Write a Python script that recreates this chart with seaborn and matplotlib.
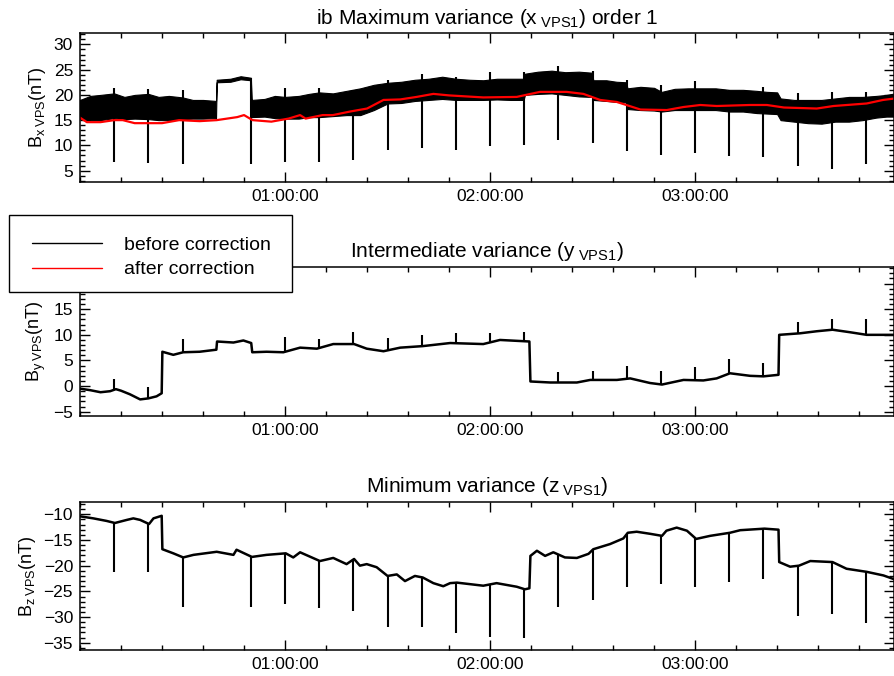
import numpy as np
import matplotlib
matplotlib.use('Agg')
import matplotlib.pyplot as plt
import seaborn as sns
from matplotlib.ticker import MultipleLocator, FixedLocator, FuncFormatter
from matplotlib.lines import Line2D
from matplotlib.patches import Rectangle

# ---------------- data (time in minutes after 00:00:00) ----------------
# Panel 1: before correction, noisy band (lower / upper envelope)
bx_t = [0, 3, 6, 10, 13, 16, 20, 23, 26, 30, 33, 36, 39.8, 40.0, 44, 47, 50.0, 50.2,
        54, 57, 60, 64, 67, 70, 74, 78, 82, 86, 90, 94, 98, 102, 106, 110, 114, 118,
        122, 126, 129.8, 130.2, 134, 138, 142, 146, 149.8, 150.2, 154, 157, 159.8,
        160.2, 164, 168, 170.2, 174, 178, 182, 186, 190, 194, 198, 201, 204, 205,
        209, 213, 217, 221, 225, 229, 233, 236, 238.5]
bx_lo = [15.3, 15.0, 15.0, 15.4, 15.2, 15.3, 15.2, 15.0, 15.0, 15.2, 15.3, 15.3, 15.4,
         22.5, 22.6, 23.1, 22.9, 15.6, 15.7, 15.4, 15.3, 15.3, 15.6, 15.6, 15.8, 16.0,
         16.0, 17.0, 18.3, 18.4, 18.8, 19.0, 19.2, 19.0, 19.0, 19.0, 19.1, 19.0, 19.0,
         20.0, 20.2, 20.3, 20.0, 19.7, 19.6, 19.0, 18.8, 18.6, 18.5, 17.2, 17.0, 16.9,
         16.7, 17.0, 17.0, 17.0, 17.0, 16.7, 16.7, 16.4, 16.3, 16.2, 15.0, 14.7, 14.4,
         14.3, 14.7, 14.7, 15.0, 15.5, 15.7, 15.7]
bx_hi = [19.0, 19.8, 20.0, 20.3, 19.6, 20.0, 20.2, 19.6, 19.8, 19.5, 19.0, 19.0, 18.8,
         23.0, 23.2, 23.7, 23.4, 19.0, 19.2, 19.8, 19.6, 19.8, 20.2, 20.5, 20.3, 20.8,
         21.3, 22.0, 22.4, 22.6, 23.0, 23.2, 23.6, 23.2, 23.0, 22.9, 23.2, 23.2, 23.2,
         24.2, 24.6, 24.8, 24.5, 24.6, 24.4, 22.9, 22.9, 22.6, 22.5, 21.3, 21.6, 21.4,
         20.6, 21.2, 21.3, 21.3, 21.3, 21.0, 21.0, 20.8, 20.6, 20.5, 19.3, 19.0, 19.0,
         19.0, 19.3, 19.6, 19.6, 19.8, 20.0, 20.3]
# Panel 1: after correction
bxc_t = [0, 2, 6, 10, 12.5, 16, 24, 29, 35, 40, 46, 48, 50.5, 56, 61, 64.4, 66, 71, 74,
         79, 84, 88.8, 93.7, 98.5, 103.4, 108, 118, 127.8, 134.6, 142.4, 147.3, 152.2,
         157.1, 164, 171.7, 176.6, 181.5, 186.3, 196, 201, 206, 215.6, 220.5, 230.2,
         235, 238.5]
bxc_v = [15.5, 14.6, 14.6, 15.0, 15.0, 14.4, 14.4, 15.0, 14.8, 15.0, 15.6, 16.0, 15.0,
         14.7, 15.3, 16.0, 15.3, 16.0, 16.0, 16.7, 17.3, 19.0, 19.1, 19.6, 20.2, 19.9,
         19.5, 19.6, 20.6, 20.6, 20.2, 19.0, 18.6, 17.1, 17.0, 17.6, 18.0, 17.8, 18.0,
         18.0, 17.5, 17.3, 17.8, 18.3, 19.0, 19.3]
bx_spk_t = [10, 20, 30, 50, 60, 70, 80, 90, 100, 110, 120, 130, 140, 150, 160, 170,
            180, 190, 200, 210, 220, 230]
bx_spk_lo = [6.8, 6.6, 6.3, 6.3, 6.8, 6.8, 7.1, 9.1, 9.5, 9.1, 9.9, 10.1, 11.1, 10.4,
             8.8, 8.0, 8.4, 7.8, 7.6, 6.0, 5.3, 6.3]
bx_spk_hi = [21.4, 21.1, 20.9, 23.4, 21.3, 21.3, 21.0, 22.9, 24.1, 23.5, 24.5, 24.5,
             25.7, 24.8, 22.9, 22.0, 22.8, 21.0, 21.6, 20.3, 20.6, 20.6]

# Panel 2
by_t = [0, 3, 6, 8.8, 10.5, 12, 14.6, 17.6, 20, 22.4, 23.9, 24.1, 27.3, 30.2, 35, 39.9,
        40.1, 44.9, 47.8, 50.1, 50.4, 54.6, 59.5, 64.4, 69.3, 74.1, 80.2, 83.9, 88.8,
        93.7, 100.3, 108.3, 118, 122.9, 131.5, 131.8, 137.6, 145.4, 149.3, 157.1, 161,
        166.8, 170.3, 176.6, 182.4, 186.3, 190.2, 196.1, 200, 204.4, 204.6, 210.7,
        215.6, 220.2, 225.4, 230.2, 238.5]
by_v = [-0.5, -0.8, -1.2, -1.0, -0.6, -0.9, -1.6, -2.6, -2.4, -2.0, -1.4, 6.7, 6.1, 6.6,
        6.7, 7.1, 8.7, 8.5, 8.9, 8.4, 6.6, 6.7, 6.6, 7.5, 7.3, 8.2, 8.2, 7.3, 6.8, 7.5,
        7.8, 8.4, 8.2, 9.0, 8.7, 0.9, 0.7, 0.7, 1.2, 1.2, 1.5, 0.6, 0.3, 1.2, 1.1, 1.5,
        2.5, 2.0, 1.9, 2.2, 10.0, 10.3, 10.7, 11.0, 10.5, 10.0, 10.0]
by_spk_t = [10, 20, 30, 60, 70, 80, 90, 100, 110, 120, 130, 140, 150, 160, 170, 180,
            190, 200, 210, 220, 230]
by_spk_v = [1.4, -0.2, 9.2, 9.6, 9.2, 10.5, 9.4, 10.0, 10.3, 10.3, 10.5, 2.8, 3.0, 3.9,
            3.0, 3.7, 5.2, 4.6, 12.5, 13.1, 13.0]

# Panel 3
bz_t = [0, 3.9, 7.8, 10.2, 13.7, 15.6, 17.6, 20.2, 21.5, 23.9, 24.1, 27.3, 30.2, 33.2,
        40, 44.9, 45.8, 50.3, 54.6, 60.2, 62.4, 64.4, 70.2, 74.1, 78, 80.2, 81.9, 83.9,
        86.8, 90, 92.7, 95.1, 98, 100.3, 103.4, 106.3, 108.3, 110.3, 118, 121.9, 127.8,
        130.2, 131.5, 131.8, 133.7, 136.1, 138.5, 141.9, 145.4, 148.8, 150.2, 155.1,
        159, 160.3, 162.9, 166.8, 170.3, 171.6, 174.6, 177.6, 180.3, 184.4, 190.2,
        193.2, 200.3, 204.4, 204.6, 207.8, 210.4, 213.7, 220.2, 224.3, 230.2, 235.1,
        238.5]
bz_v = [-10.4, -10.8, -11.3, -11.7, -11.1, -10.8, -11.1, -11.9, -10.8, -10.3, -16.8,
        -17.6, -18.4, -17.9, -17.3, -17.9, -16.9, -18.3, -17.9, -17.6, -18.4, -17.4,
        -19.1, -18.5, -19.7, -18.7, -20.0, -19.7, -20.3, -22.0, -21.7, -23.0, -22.0,
        -22.3, -23.4, -24.0, -23.4, -23.3, -23.9, -23.4, -24.1, -24.6, -24.4, -18.1,
        -17.1, -18.1, -17.4, -18.4, -18.5, -17.7, -16.8, -15.8, -14.7, -13.6, -13.4,
        -13.8, -14.2, -13.2, -12.6, -13.2, -14.8, -14.2, -13.6, -13.1, -12.8, -13.0,
        -19.3, -20.2, -20.0, -19.1, -19.3, -20.6, -21.2, -21.9, -22.7]
bz_spk_t = [10, 20, 30, 50, 60, 70, 80, 90, 100, 110, 120, 130, 140, 150, 160, 170,
            180, 190, 200, 210, 220, 230]
bz_spk_v = [-21.3, -21.3, -28.1, -28.1, -27.4, -28.3, -28.8, -32.0, -32.0, -33.1, -33.9,
            -34.1, -28.0, -26.7, -24.1, -23.6, -24.2, -23.1, -22.5, -29.8, -29.4, -31.2]

titles = [r"ib Maximum variance (x$_{\rm\ VPS1}$) order 1",
          r"Intermediate variance (y$_{\rm\ VPS1}$)",
          r"Minimum variance (z$_{\rm\ VPS1}$)"]
ylabels = [r"B$_{\rm x\ VPS}$(nT)", r"B$_{\rm y\ VPS}$(nT)", r"B$_{\rm z\ VPS}$(nT)"]
ylims = [(2.8, 32.2), (-5.84, 23.3), (-36.4, -7.55)]
xlim = (0, 238.2)
legend_labels = ["before correction", "after correction"]

# ---------------- style ----------------
sns.set_style('ticks', rc={'axes.edgecolor': 'black', 'xtick.color': 'black',
                           'ytick.color': 'black', 'text.color': 'black',
                           'axes.labelcolor': 'black'})
plt.rcParams['font.family'] = ['Liberation Sans', 'DejaVu Sans']
plt.rcParams['mathtext.fontset'] = 'custom'
plt.rcParams['mathtext.rm'] = 'Liberation Sans'
plt.rcParams['mathtext.it'] = 'Liberation Sans'
plt.rcParams['axes.linewidth'] = 1.1

fig = plt.figure(figsize=(8.95, 6.76), dpi=100)
positions = [(0.0894, 0.7312, 0.9095, 0.2195),
             (0.0894, 0.3846, 0.9095, 0.2209),
             (0.0894, 0.0385, 0.9095, 0.2194)]
axes = [fig.add_axes(p) for p in positions]

def tfmt(m, pos):
    m = int(round(m))
    return f"{m // 60:02d}:{m % 60:02d}:00"

# Panel 1
ax = axes[0]
ax.fill_between(bx_t, bx_lo, bx_hi, color='black', lw=0.8, edgecolor='black')
ax.vlines(bx_spk_t, bx_spk_lo, bx_spk_hi, color='black', lw=1.5)
sns.lineplot(x=bxc_t, y=bxc_v, ax=ax, color='red', lw=1.6, estimator=None, sort=False)

# Panel 2
ax = axes[1]
sns.lineplot(x=by_t, y=by_v, ax=ax, color='black', lw=1.8, estimator=None, sort=False)
ax.vlines(by_spk_t, np.interp(by_spk_t, by_t, by_v), by_spk_v, color='black', lw=1.5)

# Panel 3
ax = axes[2]
sns.lineplot(x=bz_t, y=bz_v, ax=ax, color='black', lw=1.8, estimator=None, sort=False)
ax.vlines(bz_spk_t, np.interp(bz_spk_t, bz_t, bz_v), bz_spk_v, color='black', lw=1.5)

for ax, title, yl, lim in zip(axes, titles, ylabels, ylims):
    ax.set_xlim(*xlim)
    ax.set_ylim(*lim)
    ax.xaxis.set_major_locator(FixedLocator([60, 120, 180]))
    ax.xaxis.set_minor_locator(MultipleLocator(12))
    ax.xaxis.set_major_formatter(FuncFormatter(tfmt))
    ax.yaxis.set_major_locator(MultipleLocator(5))
    ax.yaxis.set_minor_locator(MultipleLocator(1))
    ax.tick_params(which='both', direction='in', top=True, right=True,
                   labelsize=12.5, width=1.0)
    ax.tick_params(which='major', length=7, pad=5)
    ax.tick_params(which='minor', length=3.5)
    ax.set_title(title, fontsize=15, pad=7)
    ax.set_ylabel(yl, fontsize=13, labelpad=4)
    ax.set_xlabel('')
    for s in ax.spines.values():
        s.set_visible(True)

# legend box (exact frame) + legend entries
W, H = 895.0, 676.0
frame = Rectangle((9 / W, 1 - 292 / H), 283 / W, 77 / H, transform=fig.transFigure,
                  facecolor='white', edgecolor='black', lw=1.0, zorder=4)
fig.patches.append(frame)
handles = [Line2D([], [], color='black', lw=1.0), Line2D([], [], color='red', lw=1.0)]
leg = fig.legend(handles, legend_labels, loc='upper left',
                 bbox_to_anchor=(11 / W, 1 - 215 / H), frameon=False,
                 fontsize=14, handlelength=3.6, handletextpad=1.1, borderpad=1.1,
                 labelspacing=0.35, borderaxespad=0)
leg.set_zorder(5)

fig.savefig('out.png', dpi=100)
